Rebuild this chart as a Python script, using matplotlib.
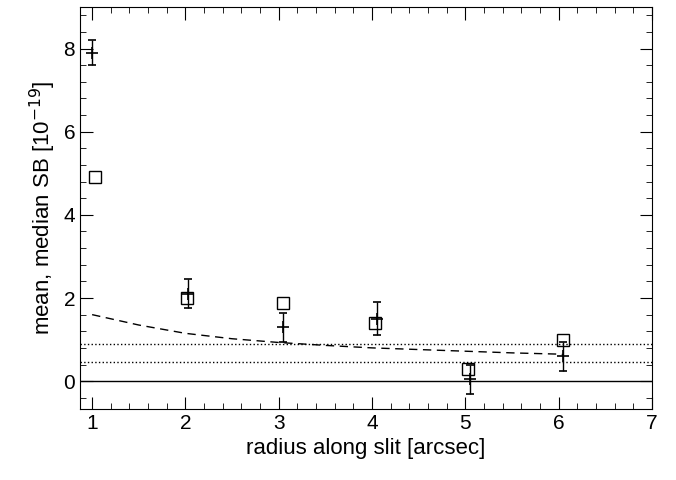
import matplotlib
matplotlib.use("Agg")
import matplotlib.pyplot as plt
from matplotlib.ticker import MultipleLocator

mean_x = [1.0, 2.03, 3.05, 4.05, 5.05, 6.05]
mean_y = [7.9, 2.1, 1.3, 1.5, 0.05, 0.6]
mean_err = [0.3, 0.35, 0.35, 0.4, 0.35, 0.35]
med_x = [1.03, 2.02, 3.05, 4.03, 5.03, 6.05]
med_y = [4.9, 2.0, 1.88, 1.4, 0.3, 1.0]
model_x = [1.0, 1.5, 2.0, 2.5, 3.0, 3.5, 4.0, 4.5, 5.0, 5.5, 6.0, 6.05]
model_y = [1.6, 1.35, 1.15, 1.02, 0.93, 0.86, 0.8, 0.76, 0.72, 0.68, 0.65, 0.64]
dotted_levels = [0.9, 0.45]

plt.rcParams['font.family'] = ['Liberation Sans', 'DejaVu Sans']
fig = plt.figure(figsize=(6.76, 4.8), dpi=100)
ax = fig.add_axes([80/676, 71/480, 572/676, 402/480])
ax.errorbar(mean_x, mean_y, yerr=mean_err, fmt='+', color='k', ms=9, mew=1.2,
            elinewidth=1, capsize=3)
ax.plot(med_x, med_y, 's', mfc='none', mec='k', ms=8, mew=1)
ax.plot(model_x, model_y, '--', color='k', lw=1, dashes=(6, 4))
for lv in dotted_levels:
    ax.axhline(lv, color='k', lw=1, ls=':')
ax.axhline(0, color='k', lw=1)
ax.set_xlim(0.87, 7.0)
ax.set_ylim(-0.67, 9.0)
ax.xaxis.set_major_locator(MultipleLocator(1))
ax.xaxis.set_minor_locator(MultipleLocator(0.2))
ax.yaxis.set_major_locator(MultipleLocator(2))
ax.yaxis.set_minor_locator(MultipleLocator(0.4))
ax.tick_params(which='both', direction='in', top=True, right=True, labelsize=15)
ax.tick_params(which='major', length=9)
ax.tick_params(which='minor', length=4)
ax.set_xlabel('radius along slit [arcsec]', fontsize=16)
ax.set_ylabel('mean, median SB [10$^{-19}$]', fontsize=16)
fig.savefig('out.png', dpi=100)
